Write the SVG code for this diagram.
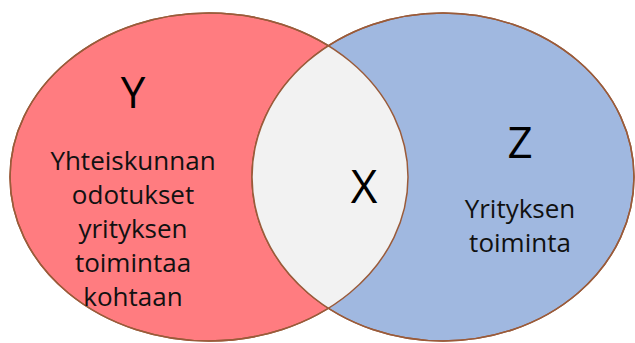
<svg xmlns="http://www.w3.org/2000/svg" width="635" height="343" viewBox="0 0 635 343">
  <style>
    .set { stroke: #9A5B3A; stroke-width: 1.5; }
    .letter { font-family: "Open Sans", "Liberation Sans", sans-serif; font-size: 44px; fill: #000; text-anchor: middle; }
    .body { font-family: "Open Sans", "Liberation Sans", sans-serif; font-size: 26px; fill: #111; text-anchor: middle; }
  </style>
  <defs>
    <ellipse id="leftShape" cx="209" cy="177" rx="199" ry="164"/>
    <ellipse id="rightShape" cx="443" cy="177" rx="191" ry="164"/>
    <clipPath id="leftClip"><use href="#leftShape"/></clipPath>
  </defs>
  <rect width="635" height="343" fill="#fff"/>

  <g id="set-y">
    <use href="#leftShape" fill="#FF7C80" class="set"/>
  </g>
  <g id="set-z">
    <use href="#rightShape" fill="#A0B8E0" class="set"/>
  </g>
  <g id="overlap-x">
    <use href="#rightShape" fill="#F2F2F2" clip-path="url(#leftClip)"/>
    <use href="#leftShape" fill="none" class="set"/>
    <use href="#rightShape" fill="none" class="set"/>
  </g>

  <g id="labels-y">
    <text class="letter" x="133" y="108">Y</text>
    <text class="body" x="133" y="170">Yhteiskunnan</text>
    <text class="body" x="133" y="204">odotukset</text>
    <text class="body" x="133" y="238">yrityksen</text>
    <text class="body" x="133" y="272">toimintaa</text>
    <text class="body" x="133" y="306">kohtaan</text>
  </g>
  <g id="labels-x">
    <text class="letter" x="364" y="203" style="font-size:46px">X</text>
  </g>
  <g id="labels-z">
    <text class="letter" x="520" y="158">Z</text>
    <text class="body" x="520" y="218">Yrityksen</text>
    <text class="body" x="520" y="252">toiminta</text>
  </g>
</svg>
